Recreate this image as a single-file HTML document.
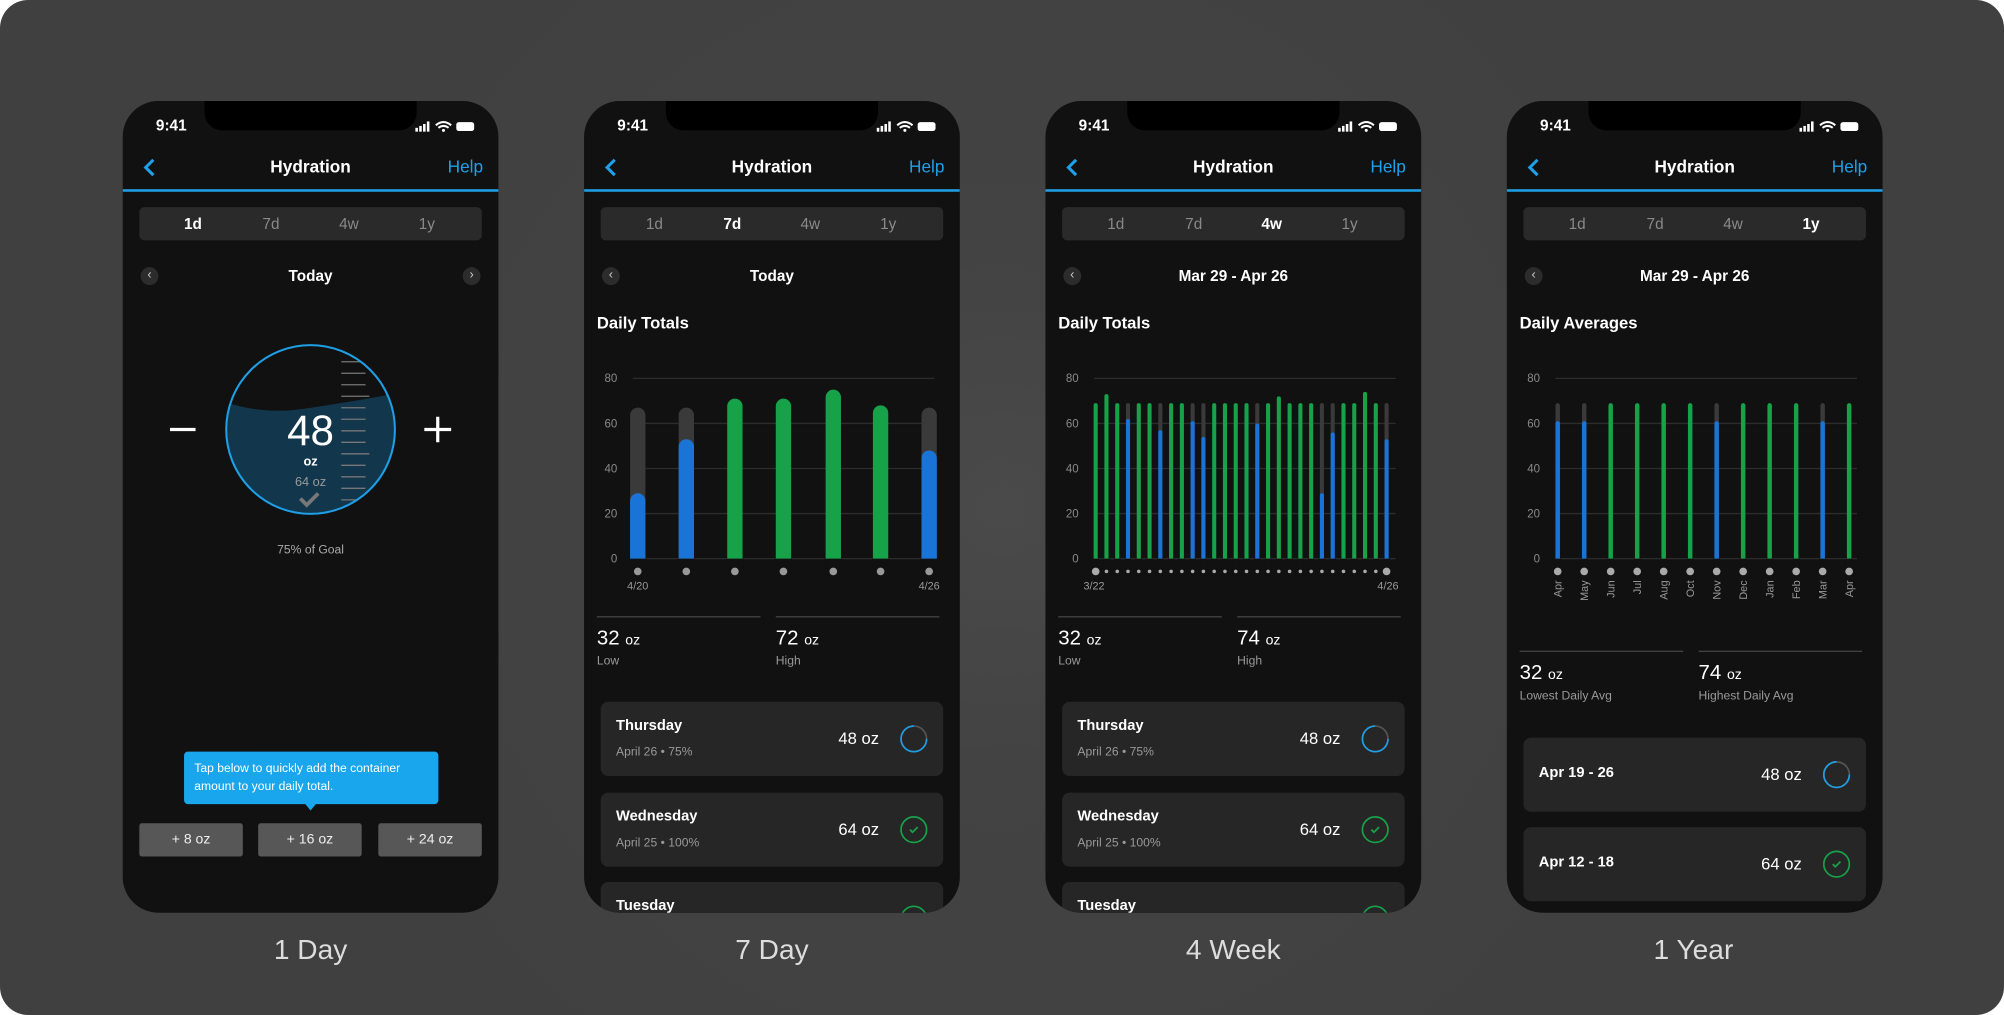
<!DOCTYPE html>
<html><head><meta charset="utf-8">
<style>
html,body{margin:0;padding:0;background:#fff;width:2004px;height:1015px;overflow:hidden}
#w{position:absolute;left:0;top:0;width:1568px;height:794px;transform:scale(1.27806,1.27834);transform-origin:0 0;font-family:"Liberation Sans",sans-serif}
#bg{position:absolute;left:0;top:0;width:1568px;height:794px;border-radius:22px;background:radial-gradient(circle at 784px 397px,#4a4a4a 0,#434343 200px,#404040 600px)}
.ph{position:absolute;top:79px;width:294px;height:635px;border-radius:28px;background:#111;overflow:hidden;color:#fff}
.a{position:absolute;white-space:nowrap}
.notch{position:absolute;left:64px;top:0;width:166px;height:23px;background:#000;border-radius:0 0 14px 14px}
.seg{position:absolute;left:13px;top:83px;width:268px;height:26px;background:#2a2a2a;border-radius:4px}
.seg span{position:absolute;top:6px;font-size:12px;color:#8a8a8a;transform:translateX(-50%)}
.seg span.on{color:#fff;font-weight:bold}
.cb{position:absolute;width:14px;height:14px;border-radius:50%;background:#2c2c2c;color:#ccc;font-size:10px;line-height:13px;text-align:center}
.card{position:absolute;left:13px;width:268px;height:58px;background:#262626;border-radius:6px}
.lbl{position:absolute;top:730px;font-size:22px;color:#ddd;transform:translateX(-50%)}
</style></head><body>
<div id="w">
<div id="bg"></div>
<div class="lbl" style="left:243px">1 Day</div>
<div class="lbl" style="left:604px">7 Day</div>
<div class="lbl" style="left:965px">4 Week</div>
<div class="lbl" style="left:1325px">1 Year</div>
</div>
<script>
const W=document.getElementById('w');
const xs=[96,457,818,1179];
const segOn=['1d','7d','4w','1y'];
const dates=['Today','Today','Mar 29 - Apr 26','Mar 29 - Apr 26'];
function yv(v){return 358-v*141/80;}
function bar(x,w,v,bgv,col){let s='';
 if(bgv){s+=`<line x1="${x}" y1="${yv(bgv)+w/2}" x2="${x}" y2="358" stroke="#3a3a3a" stroke-width="${w}" stroke-linecap="round"/>`;}
 const c=col||(bgv?'#1a74d8':'#17a24a');
 s+=`<line x1="${x}" y1="${yv(v)+w/2}" x2="${x}" y2="358" stroke="${c}" stroke-width="${w}" stroke-linecap="round"/>`;
 s+=`<rect x="${x-w/2-1}" y="358" width="${w+2}" height="8" fill="#111"/>`;return s;}
function grid(){let s='';[0,20,40,60,80].forEach(v=>{const y=yv(v);s+=`<line x1="38" x2="274" y1="${y}" y2="${y}" stroke="#2c2c2c" stroke-width="1"/><text x="26" y="${y+3}" font-size="9" fill="#8a8a8a" text-anchor="end">${v}</text>`});return s;}
xs.forEach((X,i)=>{
 let h=`<div class="ph" style="left:${X}px">
 <div class="notch"></div>
 <div class="a" style="left:26px;top:12px;font-size:12px;font-weight:bold">9:41</div>
 <svg class="a" style="left:228px;top:15px" width="50" height="10"><rect x="1" y="6" width="2" height="3" fill="#fff"/><rect x="4" y="4.5" width="2" height="4.5" fill="#fff"/><rect x="7" y="3" width="2" height="6" fill="#fff"/><rect x="10" y="1" width="2" height="8" fill="#fff"/><path d="M17 4 Q23 -1 29 4 M19 6 Q23 3 27 6" stroke="#fff" stroke-width="1.6" fill="none"/><circle cx="23" cy="8" r="1.2" fill="#fff"/><rect x="33" y="1.5" width="14" height="7" rx="2" fill="#fff"/></svg>
 <svg class="a" style="left:15px;top:44px" width="12" height="16"><path d="M9 2 L3 8 L9 14" stroke="#1ea0ea" stroke-width="2.4" fill="none"/></svg>
 <div class="a" style="left:147px;top:44px;transform:translateX(-50%);font-size:13.5px;font-weight:bold">Hydration</div>
 <div class="a" style="right:12px;top:44px;font-size:13.5px;color:#1ea0ea">Help</div>
 <div class="a" style="left:0;top:69px;width:294px;height:1.5px;background:#1e9fe6"></div>
 <div class="seg">${['1d','7d','4w','1y'].map((t,k)=>`<span style="left:${42+61*k}px" class="${t==segOn[i]?'on':''}">${t}</span>`).join('')}</div>
 <div class="cb" style="left:14px;top:130px">&#8249;</div>
 <div class="a" style="left:147px;top:130px;transform:translateX(-50%);font-size:12px;font-weight:bold">${dates[i]}</div>`;
 if(i==0){
  h+=`<div class="cb" style="left:266px;top:130px">&#8250;</div>
  <svg class="a" style="left:0;top:180px" width="294" height="160">
   <defs><clipPath id="cc"><circle cx="147" cy="77" r="66"/></clipPath></defs>
   <g clip-path="url(#cc)"><path d="M70 52 Q105 66 140 61 T230 46 L240 46 L240 160 L60 160 L60 52 Z" fill="#12374d"/>
   ${Array.from({length:17},(_,k)=>`<line x1="171" x2="${k%5==3?193:190}" y1="${24+k*9}" y2="${24+k*9}" stroke="#777" stroke-width="1"/>`).join('')}</g>
   <circle cx="147" cy="77" r="66" fill="none" stroke="#1e9fe6" stroke-width="1.6"/>
   <text x="147" y="89" font-size="33" fill="#fff" text-anchor="middle">48</text>
   <text x="147" y="105" font-size="10" font-weight="bold" fill="#fff" text-anchor="middle">oz</text>
   <text x="147" y="121" font-size="10" fill="#999" text-anchor="middle">64 oz</text>
   <path d="M139 131 L144 136 L153 127" stroke="#777" stroke-width="3" fill="none"/>
   <line x1="37" x2="57" y1="77" y2="77" stroke="#fff" stroke-width="2.5"/>
   <line x1="236" x2="257" y1="77" y2="77" stroke="#fff" stroke-width="2.5"/><line x1="246.5" x2="246.5" y1="67" y2="87" stroke="#fff" stroke-width="2.5"/>
  </svg>
  <div class="a" style="left:147px;top:346px;transform:translateX(-50%);font-size:9.5px;color:#aaa">75% of Goal</div>
  <div class="a" style="left:48px;top:509px;height:41px;background:#1aa6ec;border-radius:3px;padding:0 0 0 8px;font-size:9.5px;line-height:14px;color:#fff;box-sizing:border-box;padding-top:7px;white-space:normal;width:199px">Tap below to quickly add the container amount to your daily total.</div>
  <div class="a" style="left:142px;top:549px;width:0;height:0;border-left:5px solid transparent;border-right:5px solid transparent;border-top:6px solid #1aa6ec"></div>
  ${[[13,'+ 8 oz'],[106,'+ 16 oz'],[200,'+ 24 oz']].map(b=>`<div class="a" style="left:${b[0]}px;top:565px;width:81px;height:26px;background:#575757;border-radius:2px;font-size:11px;color:#eee;line-height:26px;text-align:center">${b[1]}</div>`).join('')}`;
 } else {
  h+=`<div class="a" style="left:10px;top:166px;font-size:13px;font-weight:bold">${i==3?'Daily Averages':'Daily Totals'}</div>`;
  let s=grid();
  if(i==1){
   const d=[[29,67],[53,67],[71],[71],[75],[68],[48,67]];
   const px=[42,80,118,156,195,232,270];
   d.forEach((v,k)=>{s+=bar(px[k],12,v[0],v[1]);s+=`<circle cx="${px[k]}" cy="368" r="3" fill="#999"/>`;});
   s+=`<text x="42" y="382" font-size="8.5" fill="#999" text-anchor="middle">4/20</text><text x="270" y="382" font-size="8.5" fill="#999" text-anchor="middle">4/26</text>`;
  } else if(i==2){
   const v=[69,73,69,-62,69,69,-57,69,69,-61,-54,69,69,69,69,-60,69,72,69,69,69,-29,-56,69,69,74,69,-53];
   v.forEach((a,k)=>{const x=39.3+k*8.43;s+=a<0?bar(x,3.2,-a,69):bar(x,3.2,a);s+=`<circle cx="${x}" cy="368" r="${(k==0||k==27)?3:1.4}" fill="#aaa"/>`;});
   s+=`<text x="38" y="382" font-size="8.5" fill="#999" text-anchor="middle">3/22</text><text x="268" y="382" font-size="8.5" fill="#999" text-anchor="middle">4/26</text>`;
  } else {
   const m=['Apr','May','Jun','Jul','Aug','Oct','Nov','Dec','Jan','Feb','Mar','Apr'];
   const bl=[0,1,6,10];
   m.forEach((t,k)=>{const x=39.8+k*20.73;s+=bl.includes(k)?bar(x,3.5,61,69):bar(x,3.5,69);s+=`<circle cx="${x}" cy="368" r="3" fill="#aaa"/><text transform="translate(${x+3},375) rotate(-90)" font-size="8.5" fill="#999" text-anchor="end">${t}</text>`;});
  }
  h+=`<svg class="a" style="left:0;top:0" width="294" height="400">${s}</svg>`;
  const sy=i==3?430:403;
  const lo=i==3?'Lowest Daily Avg':'Low', hi=i==3?'Highest Daily Avg':'High';
  const hv=i==1?'72':'74';
  h+=`<div class="a" style="left:10px;top:${sy}px;width:128px;height:1px;background:#444"></div>
  <div class="a" style="left:150px;top:${sy}px;width:128px;height:1px;background:#444"></div>
  <div class="a" style="left:10px;top:${sy+9}px;font-size:16px">32 <span style="font-size:11px">oz</span></div>
  <div class="a" style="left:150px;top:${sy+9}px;font-size:16px">${hv} <span style="font-size:11px">oz</span></div>
  <div class="a" style="left:10px;top:${sy+30}px;font-size:9.5px;color:#999">${lo}</div>
  <div class="a" style="left:150px;top:${sy+30}px;font-size:9.5px;color:#999">${hi}</div>`;
  const ring=`<svg width="24" height="24"><circle cx="12" cy="12" r="10" fill="none" stroke="#555" stroke-width="1.3"/><path d="M12 2 A10 10 0 1 1 2 12" fill="none" stroke="#1e9fe6" stroke-width="1.3" transform="rotate(90 12 12)"/></svg>`;
  const chk=`<svg width="24" height="24"><circle cx="12" cy="12" r="10" fill="none" stroke="#17a24a" stroke-width="1.3"/><path d="M9 12 L11 14 L15 10" stroke="#17a24a" stroke-width="1.4" fill="none"/></svg>`;
  if(i<3){
   h+=`<div class="card" style="top:470px"><div class="a" style="left:12px;top:13px;font-size:11.5px;font-weight:bold">Thursday</div><div class="a" style="left:12px;top:34px;font-size:9.5px;color:#999">April 26 • 75%</div><div class="a" style="left:186px;top:21px;font-size:13px">48 oz</div><div class="a" style="left:233px;top:17px">${ring}</div></div>
   <div class="card" style="top:541px"><div class="a" style="left:12px;top:13px;font-size:11.5px;font-weight:bold">Wednesday</div><div class="a" style="left:12px;top:34px;font-size:9.5px;color:#999">April 25 • 100%</div><div class="a" style="left:186px;top:21px;font-size:13px">64 oz</div><div class="a" style="left:233px;top:17px">${chk}</div></div>
   <div class="card" style="top:611px"><div class="a" style="left:12px;top:13px;font-size:11.5px;font-weight:bold">Tuesday</div><div class="a" style="left:233px;top:17px">${chk}</div></div>`;
  } else {
   h+=`<div class="card" style="top:498px"><div class="a" style="left:12px;top:22px;font-size:11.5px;font-weight:bold">Apr 19 - 26</div><div class="a" style="left:186px;top:21px;font-size:13px">48 oz</div><div class="a" style="left:233px;top:17px">${ring}</div></div>
   <div class="card" style="top:568px"><div class="a" style="left:12px;top:22px;font-size:11.5px;font-weight:bold">Apr 12 - 18</div><div class="a" style="left:186px;top:21px;font-size:13px">64 oz</div><div class="a" style="left:233px;top:17px">${chk}</div></div>`;
  }
 }
 h+='</div>';
 W.insertAdjacentHTML('beforeend',h);
});
</script>
</body></html>
